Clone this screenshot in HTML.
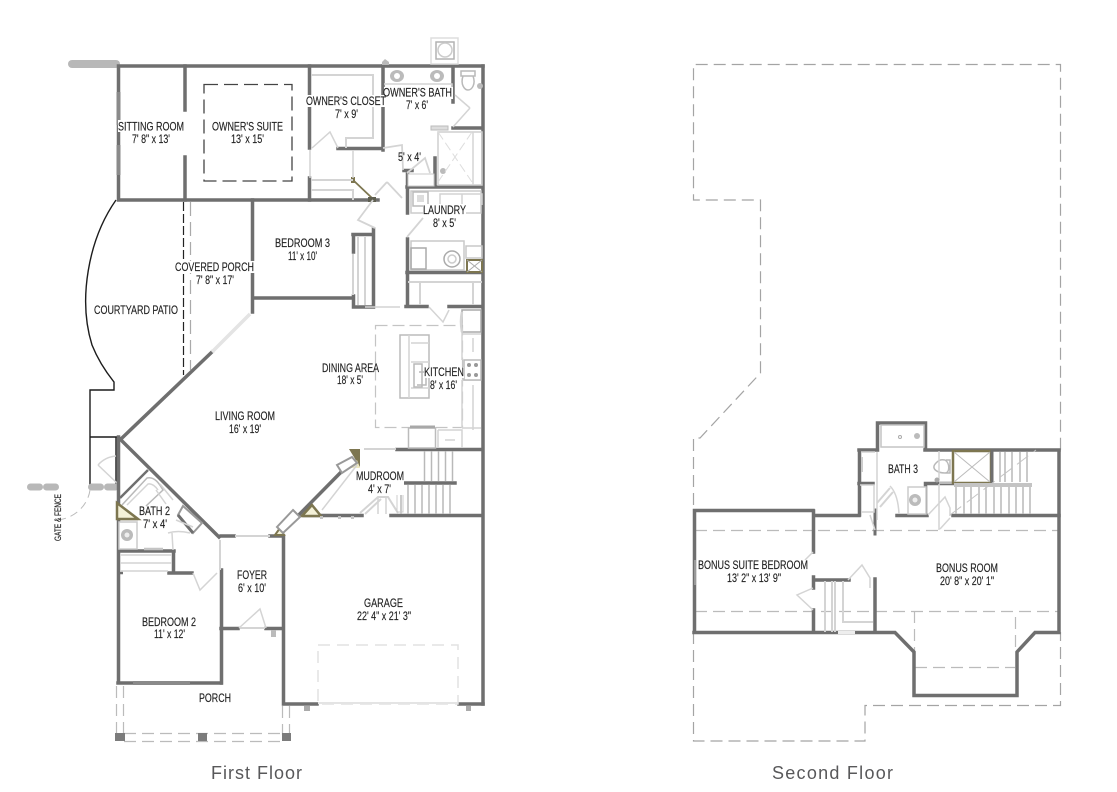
<!DOCTYPE html>
<html><head><meta charset="utf-8"><style>
html,body{margin:0;padding:0;background:#fff;width:1117px;height:792px;overflow:hidden}
svg{display:block}
text{font-family:"Liberation Sans",sans-serif;font-size:12px;fill:#1f1f1f;stroke:#1f1f1f;stroke-width:.15}
.w{stroke:#6f6f6f;stroke-width:3.5;fill:none;stroke-linecap:square}
.t{stroke:#6f6f6f;stroke-width:2.5;fill:none}
.l{stroke:#d4d4d4;stroke-width:1.5;fill:none}
.m{stroke:#b9b9b9;stroke-width:1.5;fill:none}
.d{stroke:#9a9a9a;stroke-width:1.2;fill:none;stroke-dasharray:14 6}
.e{stroke:#bbb;stroke-width:1.2;fill:none;stroke-dasharray:12 6}
.k{stroke:#1c1c1c;stroke-width:1.4;fill:none}
.o{fill:#7d7650}
</style></head><body>
<svg width="1117" height="792" viewBox="0 0 1117 792" xmlns="http://www.w3.org/2000/svg">
<rect width="1117" height="792" fill="#fff"/>
<!-- FIRST FLOOR -->
<rect x="68" y="60" width="52" height="8" rx="4" fill="#b8b8b8"/>
<path class="k" d="M116 200C88 240 78 300 92 345C98 360 106 372 114 382V390H90V485M90 437H120M116 437V485"/>
<g fill="#b8b8b8"><rect x="27" y="483.500" width="16" height="7" rx="3.500"/><rect x="43" y="483.500" width="16" height="7" rx="3.500"/><rect x="88" y="483.500" width="16" height="7" rx="3.500"/><rect x="104" y="483.500" width="15" height="7" rx="3.500"/></g>
<path d="M90 490C88 505 75 518 58 520" stroke="#bbb" fill="none" stroke-dasharray="8 5"/>
<path class="l" d="M98 465L118 484M98 465Q105 457 116 456"/>
<text transform="translate(61 541) rotate(-90)" textLength="47" lengthAdjust="spacingAndGlyphs" style="font-size:9px">GATE &amp; FENCE</text>
<!-- dashes -->
<path class="d" style="stroke:#222;stroke-dasharray:9 3" d="M183.500 202V375"/>
<path class="d" style="stroke:#aaa" d="M190.500 202V255M190.500 260V370"/>
<rect x="204" y="84.500" width="88" height="96.500" fill="none" stroke="#444" stroke-width="1.300" stroke-dasharray="14 6"/>
<!-- main walls -->
<path class="w" d="M118.500 66H483M118.500 66V200M118.500 200H378"/>
<path class="w" d="M185 66V110M185 157V200"/>
<path class="t" d="M118.500 92V125M118.500 145V175" style="stroke:#8a8a8a;stroke-width:4"/>
<path class="w" d="M309.500 66V148M309.500 178V200"/>
<path class="w" d="M383 66V150M338 148.500H383"/>
<path class="w" d="M453 66V102M453 128H482"/>
<path class="w" d="M483 66V704"/>
<path class="w" d="M407 187H482"/>
<path class="w" d="M407.500 171V213M404 170.500H412M435 158V186"/>
<path class="w" d="M407.500 239V305M407 272.500H482M406 306.500H427M449 306.500H482"/>
<path class="w" d="M252.500 200V312M253 298H353M353.500 235V252M353.500 296V307M353 234.500H373M373.500 229V307M354 307H373"/>
<path class="l" style="stroke-width:2" d="M353 254V295M358 237V305M365 237V305"/>
<path d="M353 180L372 198" stroke="#7d7650" stroke-width="1.800" fill="none"/>
<rect x="351" y="177" width="4" height="6" class="o"/>
<rect x="368" y="197" width="8" height="5" fill="#5f5f50"/>
<!-- diagonals -->
<path class="w" d="M122 438L212 352"/>
<path d="M212 352L250 314" stroke="#e4e4e4" stroke-width="3.500"/>
<path class="w" d="M120 439L219 537"/>
<path class="w" d="M118.500 437V683M118 683H221"/>
<path class="w" d="M221.500 570V683M221 628.500H238M266 628.500H282M221 536H234M270 536H283"/>
<path class="w" d="M283.500 536V704M284 704H317M459 704H483"/>
<path class="t" d="M120 498L148 470M120 519H138"/>
<path class="w" d="M120 551H174M173.500 551V572M169 573H192"/>
<path class="t" d="M118 573H123"/>
<path class="w" d="M283 531L350 463"/>
<path class="w" d="M397 449.500H482M304 515.500H362M391 515.500H482M402 483H455"/>
<!-- olive corners -->
<path d="M117 503L138 519H117Z" fill="#f4f1d8" stroke="#7d7650" stroke-width="2.500"/>
<path d="M349 449h11v18z" class="o"/><path d="M357 460L350 468H360Z" fill="#eee8c0"/>
<path d="M302 516L312 505L321 516Z" fill="#f4f1d8" stroke="#7d7650" stroke-width="2.500"/>
<path d="M275 535L280 528L284 535Z" fill="#f4f1d8" stroke="#7d7650" stroke-width="2"/>
<!-- windows on diagonals -->
<g fill="#fff" stroke="#999" stroke-width="2">
<path d="M352 457L357 463L342 473L337 465Z"/>
<path d="M293 510L300 517L283 533L277 527Z"/>
<path d="M183 506L202 523L193 533L178 515Z"/>
</g>
<path d="M178 515L193 533" stroke="#6f6f6f" stroke-width="3"/>
<path d="M357 465L322 510" stroke="#d4d4d4" stroke-width="1.500"/>
<!-- closet shelves -->
<path class="l" style="stroke-width:2" d="M311 75H373V138H346V148M311 180H353M311 190H353V200"/>
<path class="l" d="M310 150V178M353 150V178M312 148L330 132L338 148"/>
<!-- door swings in hall -->
<path class="l" style="stroke-width:1.800" d="M373 200L358 220L375 228M387 182L375 195M387 182L402 198M407 237L423 218M383 148L402 145L403 170M407 173L425 158L430 173"/>
<!-- plumbing -->
<g fill="#bbb"><ellipse cx="397" cy="76" rx="7" ry="6"/><ellipse cx="437" cy="76" rx="7" ry="6"/><circle cx="480" cy="86" r="3"/><circle cx="443" cy="171" r="3"/></g>
<g fill="#fff"><circle cx="397" cy="76" r="3"/><circle cx="437" cy="76" r="3"/></g>
<path class="l" d="M384 84H452V96"/>
<path class="m" d="M461 71H475V76H461ZM463 76C460 85 465 90 468 90C472 90 476 84 473 76"/>
<rect x="431" y="38" width="27" height="26" fill="none" stroke="#ddd" stroke-width="1.500"/>
<rect x="436" y="42" width="18" height="17" fill="#fff" stroke="#b2b2b2" stroke-width="1.500"/><circle cx="445" cy="50" r="7" fill="none" stroke="#ccc" stroke-width="1.500"/>
<path d="M382 62l3-3 4 3v3h-7z" fill="#bbb"/>
<path class="l" d="M470 108L453 127M470 108L455 95"/>
<rect x="431" y="126" width="17" height="4" fill="#ddd" stroke="#bbb"/>
<rect x="438" y="132" width="44" height="53" fill="none" stroke="#cfcfcf" stroke-width="1.500"/>
<path d="M438 132L472 182M472 132L438 182" stroke="#ddd" fill="none" stroke-dasharray="9 4"/>
<path class="l" d="M473 132V185"/>
<rect x="408" y="174" width="26" height="12" fill="#fff" stroke="#c8c8c8"/>
<!-- laundry -->
<rect x="411" y="191" width="70" height="22" fill="none" stroke="#ccc" stroke-width="1.500"/>
<rect x="413" y="192" width="15" height="14" fill="none" stroke="#bbb" stroke-width="1.500"/><rect x="417" y="195" width="7" height="7" fill="#ddd"/>
<path class="l" d="M440 205V194H462V205M460 194H482V205"/>
<rect x="411" y="241" width="53" height="29" fill="none" stroke="#c8c8c8" stroke-width="1.500"/>
<rect x="411" y="248" width="15" height="21" fill="none" stroke="#aaa" stroke-width="1.500"/>
<circle cx="452" cy="259" r="8" fill="#fff" stroke="#aaa" stroke-width="1.500"/><circle cx="452" cy="259" r="4" fill="none" stroke="#ccc" stroke-width="1.500"/>
<rect x="466" y="246" width="16" height="12" fill="none" stroke="#c8c8c8" stroke-width="1.500"/>
<rect x="467" y="260" width="15" height="12" fill="#fff" stroke="#7d7650" stroke-width="2"/><path d="M467 260L482 272M482 260L467 272" stroke="#aaa"/>
<path class="l" style="stroke-width:2" d="M408 282H482M420 282V305M473 282V305"/>
<!-- kitchen -->
<rect x="375.500" y="325.500" width="87" height="102" fill="none" stroke="#c4c4c4" stroke-width="1.200" stroke-dasharray="12 5"/>
<rect x="400" y="335" width="29" height="63" fill="none" stroke="#bbb" stroke-width="1.500"/>
<path class="l" d="M409 335V398M411 343H429M411 362H429M411 388H429"/>
<path class="m" d="M414 364H422V387H414ZM419 372H426V385H417"/>
<rect x="462" y="310" width="19" height="22" fill="none" stroke="#aaa" stroke-width="1.500"/>
<path class="l" style="stroke-width:2.500" d="M462 312Q460 321 462 332"/>
<path class="l" d="M463 334H481M473 338V352M462 380H481M473 385V430M462 332V360M462 380V428"/>
<rect x="464" y="360" width="17" height="20" fill="#fff" stroke="#bbb" stroke-width="1.500"/>
<g fill="#999"><circle cx="469" cy="365" r="2"/><circle cx="476" cy="365" r="2"/><circle cx="469" cy="375" r="2"/><circle cx="476" cy="375" r="2"/></g>
<rect x="408.500" y="428" width="27" height="20" fill="#fff" stroke="#bbb" stroke-width="1.500"/><path d="M410 427H435" stroke="#a8a8a8" stroke-width="3"/>
<path class="l" d="M438 430H462V448M445 440H455M438 448V430M462 428H481"/>
<path class="l" d="M429 307L443 322L449 310"/>
<path class="l" d="M365 307H400" />
<path class="l" style="stroke-width:2" d="M364 449H396"/>
<!-- stairs -->
<path class="m" d="M424.500 451V481M431.500 451V481M438.500 451V481M445.500 451V481M452.500 451V481M401 485V514M408 485V514M415 485V514M422 485V514M429 485V514M436 485V514M443 485V514M450 485V514"/>
<path class="l" style="stroke-width:2" d="M360 513L378 497H388L398 513M365 514L381 499"/>
<path class="l" d="M378 514V497M386 514V497"/>
<rect x="397" y="484" width="6" height="28" fill="none" stroke="#ccc"/>
<g fill="#c4c4c4"><rect x="320" y="516" width="3" height="3"/><rect x="338" y="516" width="3" height="3"/><rect x="351" y="516" width="3" height="3"/></g>
<rect x="358" y="483" width="3" height="7" fill="#888"/>
<!-- bath 2 -->
<path class="m" d="M122 505L147 478C155 476 160 485 163 490L146 506"/>
<path class="l" d="M127 505L148 484C152 483 156 487 158 490"/>
<path class="l" d="M160 484L173 500M156 490L166 504"/>
<rect x="119" y="522" width="18" height="27" fill="#fff" stroke="#ccc" stroke-width="1.500"/><circle cx="127" cy="535" r="6" fill="#bbb"/><circle cx="127" cy="535" r="2.500" fill="#eee"/>
<path class="l" d="M120 563H172M120 555H172M120 571H168"/>
<path d="M144 549H163" stroke="#c4c4c4" stroke-width="2.500"/>
<path class="l" d="M168 533Q178 530 190 533M172 533L173 550M176 520L193 527"/>
<path class="l" d="M193 573L200 590L217 573"/>
<path class="l" style="stroke-width:2" d="M235 536H270M220 540V570"/>
<path class="l" d="M239 628L260 609L266 628"/>
<path class="l" style="stroke-width:2" d="M240 628H265"/>
<rect x="271" y="630" width="5" height="7" fill="#bbb"/>
<!-- bedroom 2 window -->
<path d="M133 683H190" stroke="#8a8a8a" stroke-width="4"/>
<!-- porch -->
<path class="e" d="M116.500 686V735M123.500 686V735M282.500 706V735M289.500 706V735M124 733.500H282M124 741.500H282"/>
<g fill="#7c7c7c"><rect x="115" y="733" width="10" height="8"/><rect x="198" y="733" width="9" height="8"/><rect x="282" y="733" width="9" height="8"/></g>
<!-- garage door -->
<rect x="318" y="645" width="140" height="59" fill="none" stroke="#e2e2e2" stroke-width="1.500" stroke-dasharray="12 7"/>
<path d="M318 703H458" stroke="#e4e4e4" stroke-width="2"/>
<rect x="304" y="706" width="6" height="5" fill="#aaa"/><rect x="466" y="706" width="5" height="5" fill="#aaa"/>

<!-- SECOND FLOOR -->
<path class="e" style="stroke:#a4a4a4" d="M693.500 505V438H700L760.500 373V200H693.500V64.500H1060.500V450"/>
<path class="e" style="stroke:#a4a4a4" d="M693.500 632V741H865V705.500H1060.500V632"/>
<path class="e" d="M695 530.500H813M818 530.500H1058M695 611.500H1058M914.500 611V652M1015.500 617V650M915 667.500H1015"/>
<path class="w" d="M694.500 510.500H813M694.500 510.500V632M694 632.500H895L914 652V695.500H1017V652L1035 632.500H1059M1059 451V632"/>
<path class="w" d="M813.500 511V552M813.500 577V588M813.500 610V632M814 515.500H859M814 580H849M875 579V631"/>
<path class="w" d="M859.500 450V515M859 450H876M925 450H1059M877.500 423V450M877.500 423H925.500V450M925.500 484V515M925.500 483.500H953M859 483.500H873M897 515.500H927M953 515.500H1059"/>
<path class="w" d="M875 510V534" style="stroke-width:3"/>
<rect x="694" y="560" width="2" height="25" fill="#999"/>
<path class="l" style="stroke-width:2" d="M825 581V632M832 581V632M835 581V632M843 581V622H873"/>
<path class="l" d="M848 580L862 565L870 578V588M813 552L805 560M813 588L797 595L813 610"/>
<rect x="838" y="631" width="17" height="3" fill="#eee"/>
<rect x="881" y="425" width="43" height="22" fill="#fff" stroke="#c4c4c4" stroke-width="1.500"/>
<circle cx="900" cy="437" r="1.500" fill="none" stroke="#aaa"/><circle cx="917" cy="436" r="3" fill="#bbb"/>
<path class="l" d="M861 452H875M860 485H874V512H861M877 452V520"/>
<rect x="861" y="457" width="2" height="15" fill="#ccc"/>
<path class="m" d="M936 463C930 469 938 473 945 473C950 473 950 463 945 460C940 459 938 461 936 463ZM946 460H950V473H946"/>
<path class="l" d="M939 451V480M954 483H939"/>
<circle cx="937" cy="480" r="2.500" fill="#aaa"/>
<rect x="908" y="487" width="18" height="27" fill="#fff" stroke="#ccc" stroke-width="1.500"/><circle cx="915" cy="500" r="6" fill="#bbb"/><circle cx="915" cy="500" r="2.500" fill="#eee"/>
<path class="l" style="stroke-width:2" d="M877 503L890 488M880 507L893 492"/>
<path class="l" d="M890 486Q898 494 899 514M928 515L945 497L950 508V516M870 515L875 530M939 484V530M940 529L950 518"/>
<rect x="953" y="451" width="38" height="32" fill="#fff" stroke="#7d7650" stroke-width="2.500"/>
<path d="M954 452L990 482M990 452L954 482" stroke="#bbb"/>
<path d="M992 450V483" stroke="#6f6f6f" stroke-width="3"/>
<path class="m" d="M1000 452V482M1005 452V482M1012 452V482M1020 452V482M1027 452V482"/>
<path d="M954 485H1032" stroke="#c4c4c4" stroke-width="4"/>
<path class="m" d="M956 487V514M964 487V514M971 487V514M979 487V514M986 487V514M994 487V514M1001 487V514M1009 487V514M1016 487V514M1023 487V514M1030 487V514"/>
<path d="M950 515L1036 450" stroke="#c4c4c4" fill="none" stroke-dasharray="14 7"/>

<!-- LABELS -->
<g>
<rect x="118" y="120" width="68" height="12" fill="#fff"/>
<text x="118" y="130.500" textLength="66" lengthAdjust="spacingAndGlyphs">SITTING ROOM</text>
<text x="132" y="143" textLength="38" lengthAdjust="spacingAndGlyphs">7' 8" x 13'</text>
<text x="212" y="130.500" textLength="71" lengthAdjust="spacingAndGlyphs">OWNER'S SUITE</text>
<text x="231" y="143" textLength="33" lengthAdjust="spacingAndGlyphs">13' x 15'</text>
<rect x="305" y="95" width="81" height="12" fill="#fff"/><rect x="384" y="87" width="69" height="12" fill="#fff"/>
<text x="306" y="105" textLength="80" lengthAdjust="spacingAndGlyphs">OWNER'S CLOSET</text>
<text x="335" y="118" textLength="23" lengthAdjust="spacingAndGlyphs">7' x 9'</text>
<text x="383" y="96.500" textLength="69" lengthAdjust="spacingAndGlyphs">OWNER'S BATH</text>
<text x="406" y="109" textLength="22" lengthAdjust="spacingAndGlyphs">7' x 6'</text>
<text x="398" y="161" textLength="23" lengthAdjust="spacingAndGlyphs">5' x 4'</text>
<rect x="423" y="204" width="43" height="12" fill="#fff"/>
<text x="423" y="214" textLength="43" lengthAdjust="spacingAndGlyphs">LAUNDRY</text>
<text x="433" y="227" textLength="23" lengthAdjust="spacingAndGlyphs">8' x 5'</text>
<text x="275" y="247" textLength="55" lengthAdjust="spacingAndGlyphs">BEDROOM 3</text>
<text x="288" y="260" textLength="29" lengthAdjust="spacingAndGlyphs">11' x 10'</text>
<rect x="176" y="261" width="79" height="12" fill="#fff"/>
<text x="175" y="271" textLength="79" lengthAdjust="spacingAndGlyphs">COVERED PORCH</text>
<text x="196" y="284" textLength="38" lengthAdjust="spacingAndGlyphs">7' 8" x 17'</text>
<text x="94" y="314" textLength="84" lengthAdjust="spacingAndGlyphs">COURTYARD PATIO</text>
<text x="322" y="372" textLength="57" lengthAdjust="spacingAndGlyphs">DINING AREA</text>
<text x="337" y="384" textLength="26" lengthAdjust="spacingAndGlyphs">18' x 5'</text>
<rect x="424" y="367" width="40" height="11" fill="#fff"/>
<text x="424" y="376" textLength="40" lengthAdjust="spacingAndGlyphs">KITCHEN</text>
<text x="430" y="389" textLength="27" lengthAdjust="spacingAndGlyphs">8' x 16'</text>
<text x="215" y="420" textLength="60" lengthAdjust="spacingAndGlyphs">LIVING ROOM</text>
<text x="229" y="433" textLength="32" lengthAdjust="spacingAndGlyphs">16' x 19'</text>
<rect x="356" y="471" width="48" height="24" fill="#fff"/>
<text x="356" y="480" textLength="48" lengthAdjust="spacingAndGlyphs">MUDROOM</text>
<text x="368" y="493" textLength="23" lengthAdjust="spacingAndGlyphs">4' x 7'</text>
<text x="139" y="515" textLength="31" lengthAdjust="spacingAndGlyphs">BATH 2</text>
<text x="143" y="528" textLength="24" lengthAdjust="spacingAndGlyphs">7' x 4'</text>
<text x="237" y="579" textLength="30" lengthAdjust="spacingAndGlyphs">FOYER</text>
<text x="238" y="592" textLength="28" lengthAdjust="spacingAndGlyphs">6' x 10'</text>
<text x="142" y="626" textLength="54" lengthAdjust="spacingAndGlyphs">BEDROOM 2</text>
<text x="154" y="638" textLength="31" lengthAdjust="spacingAndGlyphs">11' x 12'</text>
<text x="199" y="702" textLength="32" lengthAdjust="spacingAndGlyphs">PORCH</text>
<text x="364" y="607" textLength="39" lengthAdjust="spacingAndGlyphs">GARAGE</text>
<text x="357" y="620" textLength="54" lengthAdjust="spacingAndGlyphs">22' 4" x 21' 3"</text>
<text x="888" y="473" textLength="30" lengthAdjust="spacingAndGlyphs">BATH 3</text>
<text x="698" y="569" textLength="110" lengthAdjust="spacingAndGlyphs">BONUS SUITE BEDROOM</text>
<text x="727" y="582" textLength="54" lengthAdjust="spacingAndGlyphs">13' 2" x 13' 9"</text>
<text x="936" y="572" textLength="62" lengthAdjust="spacingAndGlyphs">BONUS ROOM</text>
<text x="940" y="585" textLength="54" lengthAdjust="spacingAndGlyphs">20' 8" x 20' 1"</text>
<text x="211" y="779" textLength="91" style="font-size:18px;fill:#58585a;stroke:none">First Floor</text>
<text x="772" y="779" textLength="121" style="font-size:18px;fill:#58585a;stroke:none">Second Floor</text>
</g>
</svg>
</body></html>
